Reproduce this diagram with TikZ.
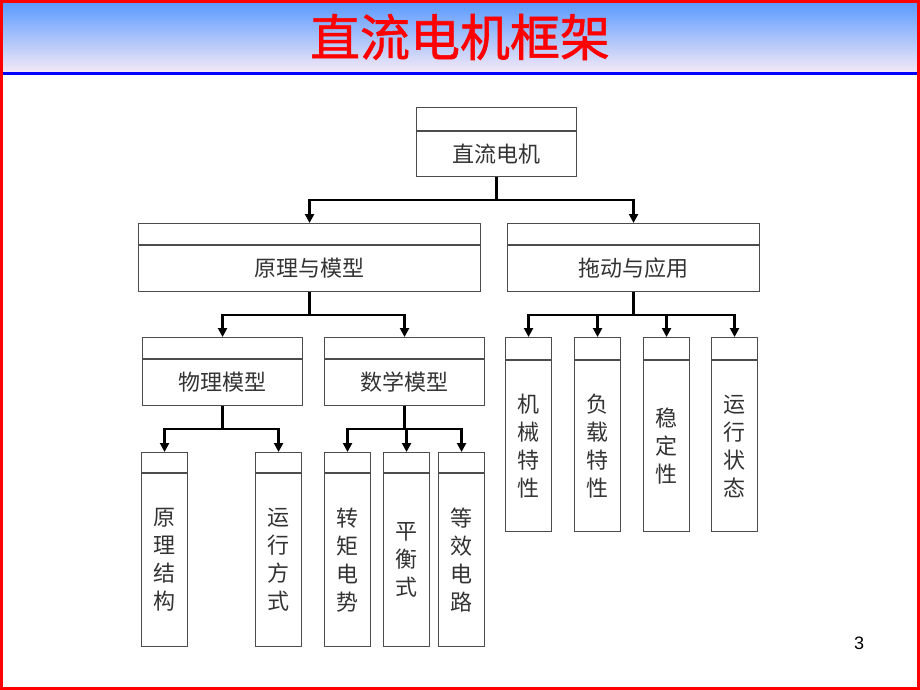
\documentclass[tikz,border=0pt]{standalone}
\usepackage{fontspec}
\newfontfamily\cjk{Noto Sans CJK SC}
\newfontfamily\titlefont{Noto Sans CJK SC}[FakeBold=1.2]
\newfontfamily\numfont{Liberation Sans}
\usepackage{tikz}
\usetikzlibrary{arrows.meta,calc}
\usepackage{xcolor}

\definecolor{barTop}{RGB}{92,155,255}
\definecolor{barMid}{RGB}{140,195,250}
\definecolor{barBot}{RGB}{246,234,246}

\tikzset{
  frame/.style={draw=black!70,line width=1.1pt,inner sep=0pt,anchor=north west},
  divider/.style={draw=black!70,line width=1.1pt},
  htext/.style={font=\cjk\fontsize{22}{22}\selectfont,text=black!80,inner sep=0pt},
  vtext/.style={font=\cjk\fontsize{22}{28}\selectfont,text=black!80,align=center,inner sep=0pt},
  arr/.style={line width=2.2pt,-{Triangle[length=9pt,width=9pt]}}
}

% name, x, y, width, height, header, text style, text
\newcommand{\chartbox}[8]{%
  \node[frame,minimum width=#4pt,minimum height=#5pt] (#1) at (#2,#3) {};
  \draw[divider] ([yshift=-#6pt]#1.north west) -- ([yshift=-#6pt]#1.north east);
  \node[#7] (#1-t) at ($(#1.south)!0.5!([yshift=-#6pt]#1.north)$) {#8};
}

\begin{document}
\begin{tikzpicture}[x=1pt,y=-1pt]
  \useasboundingbox (0,0) rectangle (920,690);

  % title bar
  \shade[top color=barTop,middle color=barMid,bottom color=barBot] (0,3) rectangle (920,73);
  \fill[blue] (0,72.5) rectangle (920,75.5);
  \node[text=red,font=\titlefont\fontsize{50}{50}\selectfont,inner sep=0pt] (title) at (460,37) {直流电机框架};
  \draw[red,line width=3pt] (1.5,1.5) rectangle (918.5,688.5);

  \chartbox{dc}{416}{107}{160}{69}{24}{htext}{直流电机}
  \chartbox{yl}{138}{223}{342}{68}{22}{htext}{原理与模型}
  \chartbox{td}{507}{223}{252}{68}{22}{htext}{拖动与应用}
  \chartbox{wl}{142}{337}{160}{68}{22}{htext}{物理模型}
  \chartbox{sx}{324}{337}{160}{68}{22}{htext}{数学模型}

  \foreach \nm/\xx/\lbl in {yljg/141/{原\\理\\结\\构},yxfs/255/{运\\行\\方\\式},zjds/324/{转\\矩\\电\\势},phs/383/{平\\衡\\式},dxdl/438/{等\\效\\电\\路}}
  {
    \chartbox{\nm}{\xx}{452}{46}{194}{21}{vtext}{\lbl}
  }
  \foreach \nm/\xx/\lbl in {jx/505/{机\\械\\特\\性},fz/574/{负\\载\\特\\性},wd/643/{稳\\定\\性},yz/711/{运\\行\\状\\态}}
  {
    \chartbox{\nm}{\xx}{337}{46}{194}{23}{vtext}{\lbl}
  }

  \draw[arr] (dc.south) -- ++(0,23) -| (yl.north);
  \draw[arr] (dc.south) -- ++(0,23) -| (td.north);
  \draw[arr] (yl.south) -- ++(0,23) -| (wl.north);
  \draw[arr] (yl.south) -- ++(0,23) -| (sx.north);
  \foreach \n in {yljg,yxfs}
    \draw[arr] (wl.south) -- ++(0,23) -| (\n.north);
  \foreach \n in {zjds,phs,dxdl}
    \draw[arr] (sx.south) -- ++(0,23) -| (\n.north);
  \foreach \n in {jx,fz,wd,yz}
    \draw[arr] (td.south) -- ++(0,23) -| (\n.north);

  \node[font=\numfont\fontsize{18}{18}\selectfont,inner sep=0pt] (pageno) at (859,643) {3};
\end{tikzpicture}
\end{document}
